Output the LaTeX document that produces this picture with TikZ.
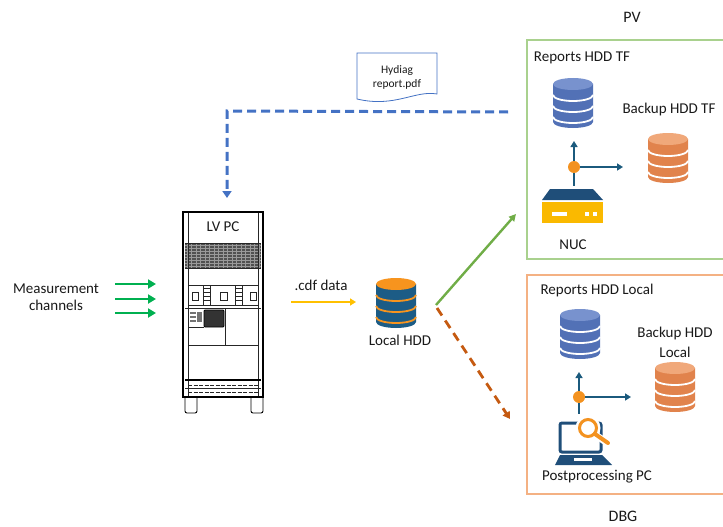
\documentclass[tikz,border=0pt]{standalone}
\usepackage{fontspec}
\setmainfont{Carlito}
\usetikzlibrary{arrows.meta}

\definecolor{pvgreen}{RGB}{169,209,142}
\definecolor{dbgorange}{RGB}{244,177,131}
\definecolor{linkgreen}{RGB}{112,173,71}
\definecolor{linkorange}{RGB}{197,90,17}
\definecolor{linkblue}{RGB}{68,114,196}
\definecolor{linkyellow}{RGB}{255,192,0}
\definecolor{chgreen}{RGB}{0,176,80}
\definecolor{flowteal}{RGB}{27,90,125}
\definecolor{hubor}{RGB}{243,146,32}
\definecolor{navy}{RGB}{31,78,121}
\definecolor{nucyellow}{RGB}{250,185,0}
\definecolor{bluebody}{RGB}{82,113,182}
\definecolor{bluetop}{RGB}{120,146,206}
\definecolor{orbody}{RGB}{225,131,76}
\definecolor{ortop}{RGB}{240,168,122}
\definecolor{hddbody}{RGB}{28,92,134}
\definecolor{hddtop}{RGB}{247,148,30}
\definecolor{meshgray}{RGB}{80,80,80}

\tikzset{
  lbl/.style={font=\fontsize{15}{18}\selectfont, inner sep=0pt, text=black!90},
  title/.style={font=\fontsize{16}{19}\selectfont, inner sep=0pt, text=black!90},
  doclbl/.style={font=\fontsize{11.5}{14}\selectfont, inner sep=0pt, align=center, text=black!90},
  group/.style={line width=1.2pt},
  slot/.style={inner sep=0pt, minimum width=40pt, minimum height=50pt},
  chan/.style={draw=chgreen, line width=2.8pt, -{Triangle[length=8pt,width=9pt]}},
  flow/.style={draw=flowteal, line width=2.4pt, -{Triangle[length=6pt,width=7pt]}},
  stub/.style={draw=flowteal, line width=2.4pt},
  hub/.style={circle, fill=hubor, inner sep=0pt, minimum size=12pt},
  thinblk/.style={line width=0.6pt, black!85},
  meshline/.style={line width=0.4pt, black!40},
  pics/database/.style args={#1/#2/#3}{code={
    \fill[#1] (-20,-19) -- (-20,19) arc[start angle=180,end angle=0,x radius=20,y radius=6] -- (20,-19) -- cycle;
    \foreach \yy in {-8,3,14}
      \draw[#3,line width=1.8pt] (-20,\yy) arc[start angle=180,end angle=0,x radius=20,y radius=6];
    \fill[#2] (0,-19) ellipse[x radius=20,y radius=6];
  }}
}

\begin{document}
\begin{tikzpicture}[x=1pt,y=-1pt]
\useasboundingbox (0,0) rectangle (723,527);

% ---------- group frames and titles ----------
\draw[group, draw=pvgreen] (527,40) rectangle (730,259);
\draw[group, draw=dbgorange] (527,275) rectangle (730,494);
\node[title] (pvtitle) at (632,17) {PV};
\node[title] (dbgtitle) at (623,516) {DBG};

% ---------- measurement channels ----------
\node[lbl, align=center, font=\fontsize{15}{16.5}\selectfont] (meas) at (56,297) {Measurement\\channels};
\coordinate (m1s) at (115,284); \coordinate (m1e) at (156,284);
\coordinate (m2s) at (115,299); \coordinate (m2e) at (156,299);
\coordinate (m3s) at (115,313); \coordinate (m3e) at (156,313);
\draw[chan] (m1s) -- (m1e);
\draw[chan] (m2s) -- (m2e);
\draw[chan] (m3s) -- (m3e);

% ---------- LV PC cabinet ----------
\node[inner sep=0pt, minimum width=80pt, minimum height=185pt] (lvpc) at (223,304.5) {};
\fill[meshgray] (185,243) rectangle (261,268);
\foreach \x in {187,191.5,...,260} \draw[meshline] (\x,243) -- (\x,268);
\foreach \y in {245.5,248.5,...,267} \draw[meshline] (185,\y) -- (261,\y);
\draw[line width=2.2pt] (183,212) rectangle (263,397);
\draw[thinblk] (188,213) -- (188,396);
\draw[thinblk] (258,213) -- (258,396);
\draw[thinblk] (185,243) -- (261,243);
\draw[thinblk] (185,268) -- (261,268);
\node[lbl] (lvpclbl) at (223,227) {LV PC};
% breaker row
\draw[thinblk] (188,285) -- (258,285);
\draw[thinblk] (188,305) -- (258,305);
\draw[thinblk] (185,308) -- (261,308);
\draw[thinblk] (192,292) rectangle (198,300);
\draw[thinblk] (220,292) rectangle (227,300);
\draw[thinblk] (250,292) rectangle (256,300);
\foreach \x in {203,210,235,242} \draw[thinblk] (\x,285) -- (\x,305);
\foreach \y in {288,292,296,300} {
  \draw[thinblk] (203,\y) -- (210,\y);
  \draw[thinblk] (235,\y) -- (242,\y);
}
% control panel
\draw[thinblk] (225,308) -- (225,345);
\draw[thinblk] (188,345) -- (258,345);
\draw[thinblk] (188,327) -- (204,327);
\fill[black!55] (190,312) rectangle (196,314);
\fill[black!55] (190,316) rectangle (196,318);
\fill[black!55] (190,320) rectangle (196,322);
\fill[black!55] (197,312) rectangle (202,322);
\draw[line width=0.8pt, fill=black!80, rounded corners=1pt] (204,310) rectangle (224,327);
% base strip
\draw[line width=1.4pt] (185,380) -- (261,380);
\draw[thinblk] (185,388.5) -- (261,388.5);
\draw[thinblk, dash pattern=on 4pt off 1.5pt] (188,385) -- (258,385);
\draw[thinblk, dash pattern=on 4pt off 1.5pt] (188,392) -- (258,392);
% legs
\draw[line width=0.9pt, rounded corners=2pt] (185,397) -- (185,413) -- (197,413) -- (197,397);
\draw[line width=0.9pt, rounded corners=2pt] (251,397) -- (251,413) -- (263,413) -- (263,397);

% ---------- report document ----------
\draw[linkblue, line width=0.8pt, fill=white] (357,53) -- (437,53) -- (437,94)
  .. controls (415,90) and (395,108) .. (357,99) -- cycle;
\node[doclbl] (doc) at (397,77) {Hydiag\\report.pdf};

% ---------- local HDD ----------
\node[slot] (lhdddb) at (396,303) {};
\pic at (396,303) {database={hddbody/hddtop/hddtop}};
\node[lbl] (lhdd) at (400,340) {Local HDD};

% .cdf data
\node[lbl] (cdf) at (321,285) {.cdf data};
\coordinate (cdfs) at (291,302);
\coordinate (cdfe) at (356,302);
\draw[linkyellow, line width=2.2pt, -{Triangle[length=6pt,width=7pt]}] (cdfs) -- (cdfe);

% ---------- links to PV and DBG ----------
\coordinate (lnks) at (436,305);
\coordinate (pvin) at (516,214);
\coordinate (lnko) at (437,308);
\coordinate (dbgin) at (510,419);
\draw[linkgreen, line width=2.4pt, -{Triangle[length=7pt,width=7pt]}] (lnks) -- (pvin);
\draw[linkorange, line width=2.8pt, dash pattern=on 9pt off 6pt, -{Triangle[length=7pt,width=8pt]}] (lnko) -- (dbgin);

% report feedback
\coordinate (fbs) at (508,112);
\coordinate (fbc) at (227,111);
\coordinate (fbe) at (227,198);
\draw[linkblue, line width=3pt, dash pattern=on 9pt off 5pt, -{Triangle[length=7pt,width=9pt]}] (fbs) -- (fbc) -- (fbe);

% ---------- PV group ----------
\node[lbl] (rtf) at (582,58) {Reports HDD TF};
\node[slot] (rtfdb) at (573,103) {};
\pic at (573,103) {database={bluebody/bluetop/white}};
\node[lbl] (btf) at (669,110) {Backup HDD TF};
\node[slot] (btfdb) at (668,158) {};
\pic at (668,158) {database={orbody/ortop/white}};
% NUC
\node[inner sep=0pt, minimum width=61pt, minimum height=34pt] (nuc) at (572.5,206) {};
\fill[navy] (550,189) -- (593,189) -- (603,200) -- (542,200) -- cycle;
\fill[nucyellow] (542,202) rectangle (603,223);
\fill[white] (552,212) rectangle (567,215.5);
\fill[white] (585,211.5) rectangle (589,215.5);
\fill[white] (593,211.5) rectangle (597,215.5);
\node[lbl] (nuclbl) at (573,245) {NUC};
\node[hub] (hubpv) at (574,167) {};
\coordinate (hubpvup) at (574,141);
\coordinate (hubpvrt) at (623,167);
\coordinate (nuctop) at (574,186);
\draw[stub] (hubpv) -- (nuctop);
\draw[flow] (hubpv) -- (hubpvup);
\draw[flow] (hubpv) -- (hubpvrt);

% ---------- DBG group ----------
\node[lbl] (rloc) at (597,290) {Reports HDD Local};
\node[slot] (rlocdb) at (580,334) {};
\pic at (580,334) {database={bluebody/bluetop/white}};
\node[lbl, align=center, font=\fontsize{15}{20}\selectfont] (bloc) at (675,342) {Backup HDD\\Local};
\node[slot] (blocdb) at (675,387) {};
\pic at (675,387) {database={orbody/ortop/white}};
% postprocessing laptop
\node[inner sep=0pt, minimum width=57pt, minimum height=52pt] (ppc) at (583.5,439) {};
\draw[navy, line width=3pt, rounded corners=2pt] (560,423) rectangle (601,452);
\fill[navy] (560,455) -- (602,455) -- (612,465) -- (555,465) -- cycle;
\fill[white] (574,458) rectangle (592,460.5);
\fill[white] (588,428) circle[radius=12.5];
\draw[white, line width=7pt, line cap=round] (597,436) -- (609,444);
\draw[hubor, line width=3pt] (588,428) circle[radius=8.5];
\draw[hubor, line width=4pt, line cap=round] (595,434) -- (608,443);
\node[lbl] (pplbl) at (597,477) {Postprocessing PC};
\node[hub] (hubdbg) at (579,397) {};
\coordinate (hubdbgup) at (579,372);
\coordinate (hubdbgrt) at (631,397);
\coordinate (ppctop) at (579,414);
\draw[stub] (hubdbg) -- (ppctop);
\draw[flow] (hubdbg) -- (hubdbgup);
\draw[flow] (hubdbg) -- (hubdbgrt);

\end{tikzpicture}
\end{document}
